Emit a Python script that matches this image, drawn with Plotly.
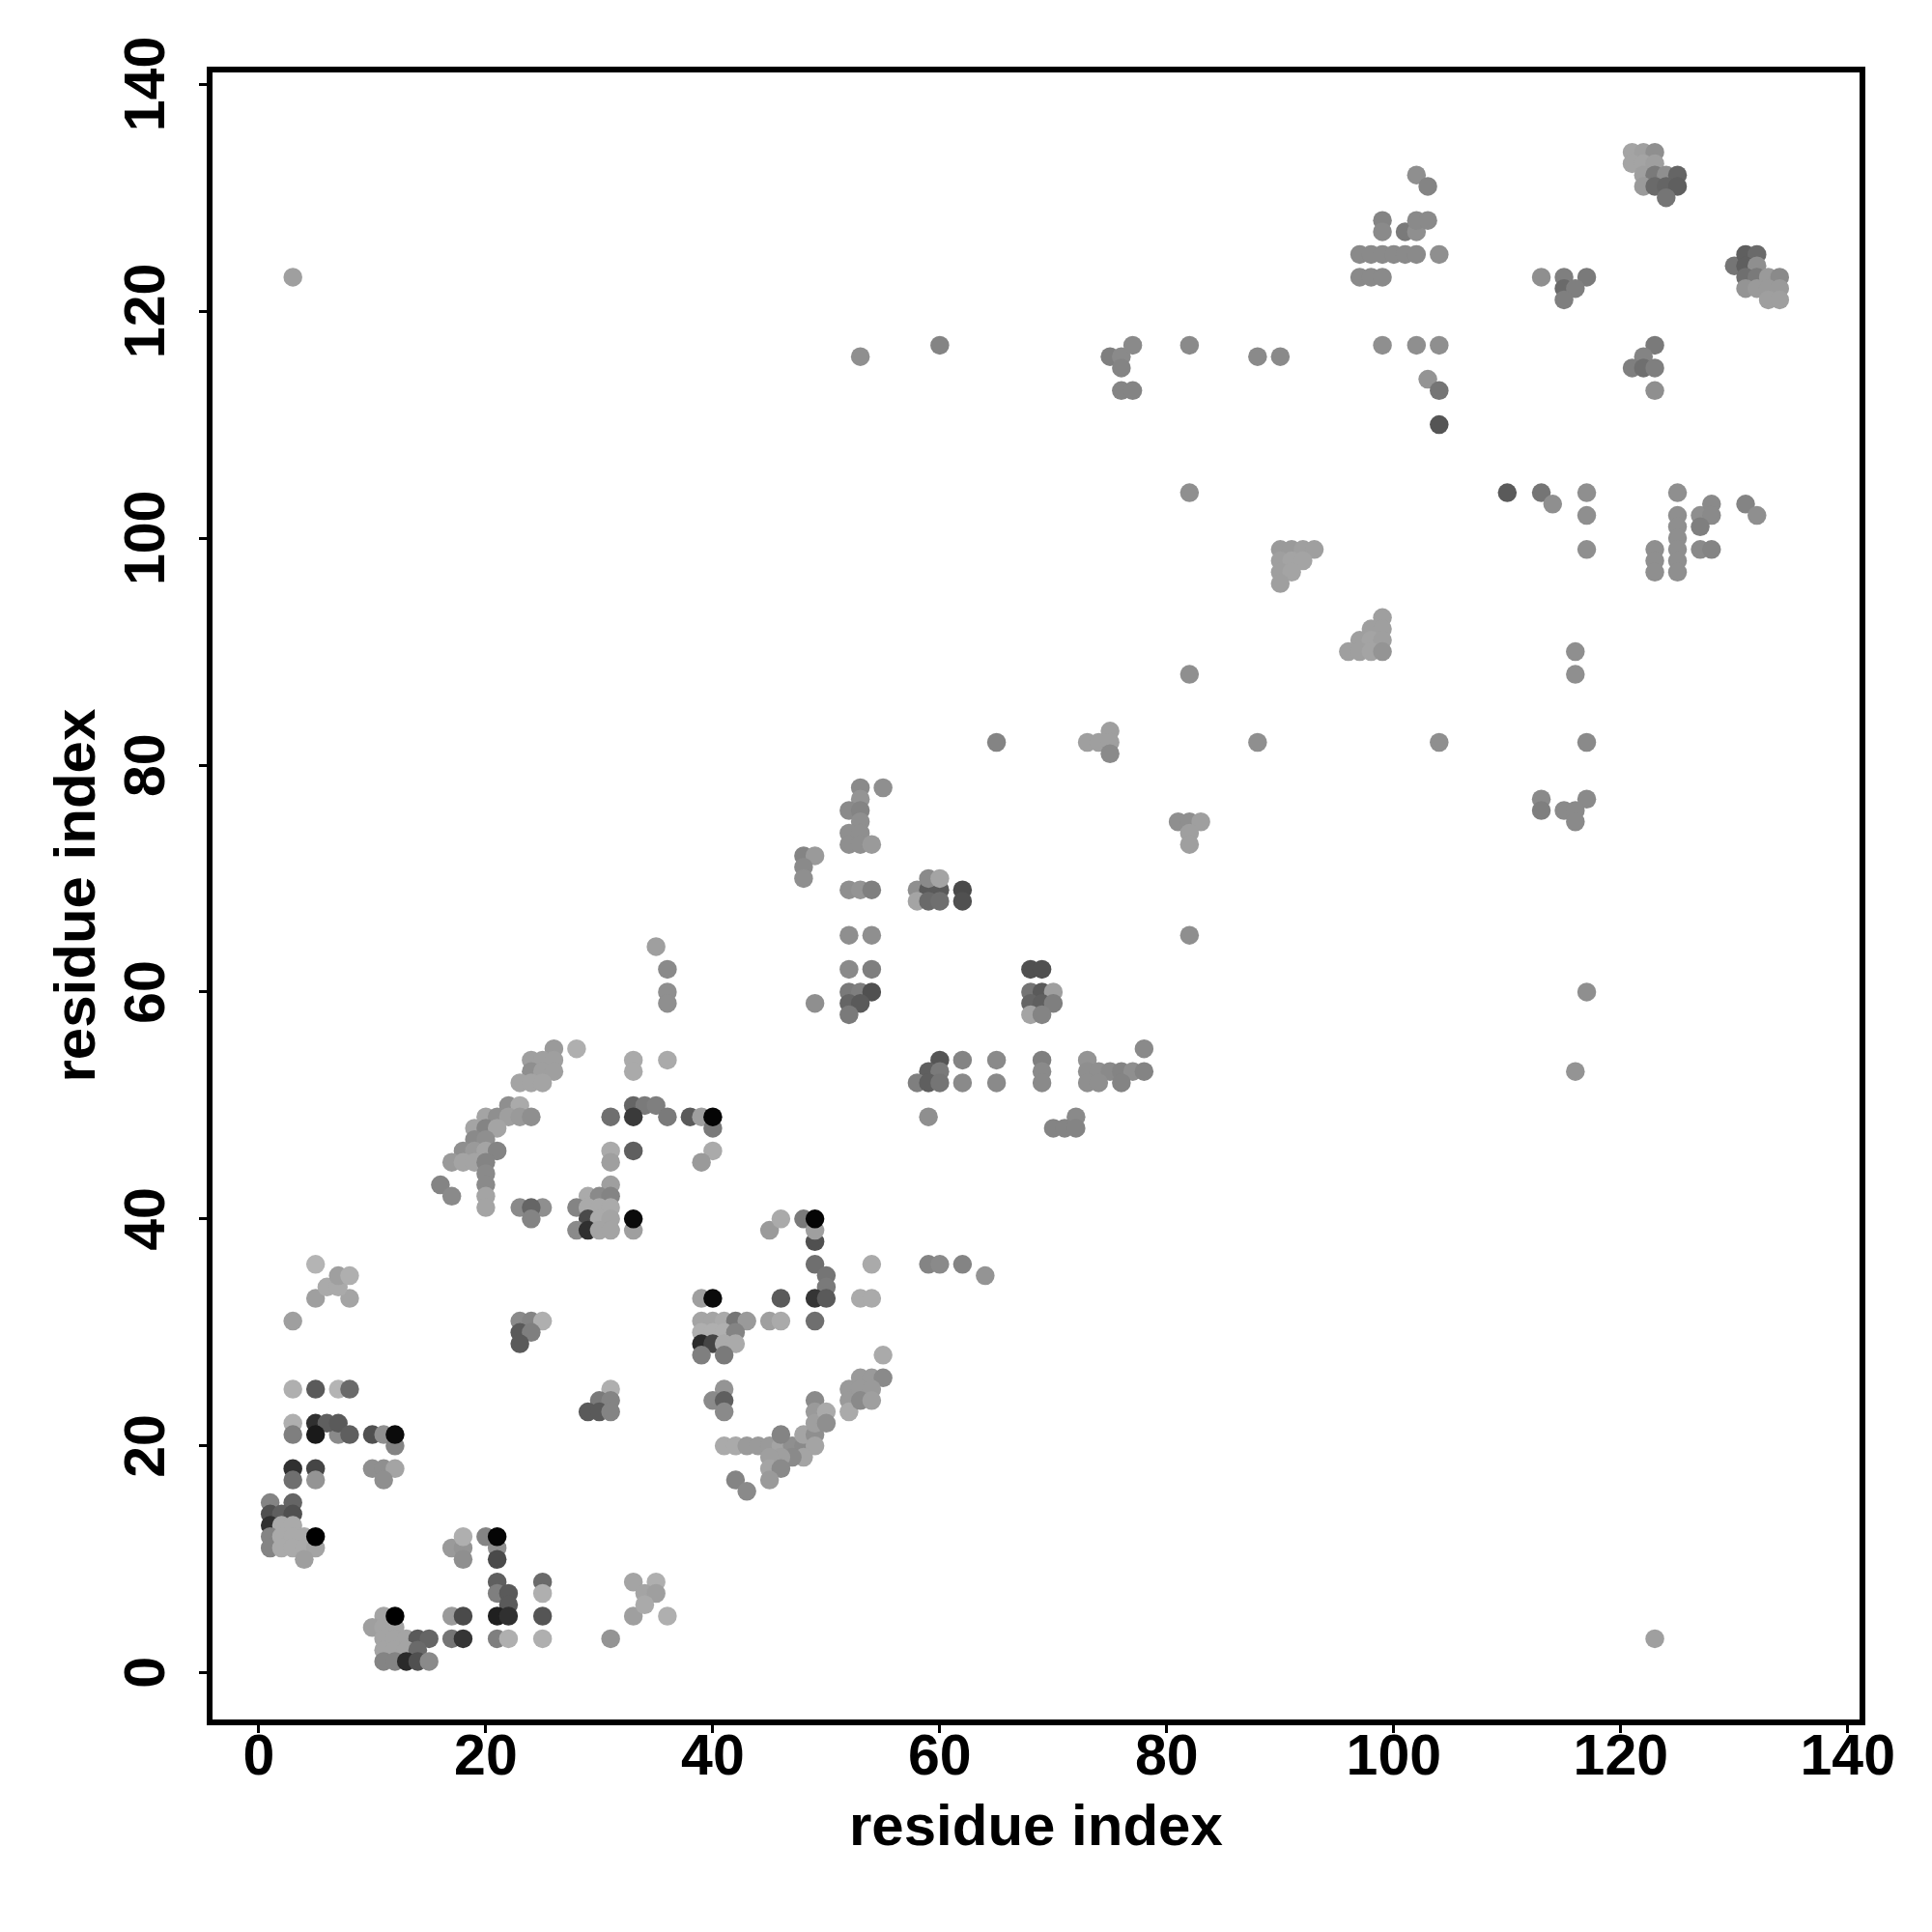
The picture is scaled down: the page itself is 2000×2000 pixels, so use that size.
import plotly.graph_objects as go

# contact map: residue pairs and the grey level of each dot, drawn in list order
residue_x = [
 3, 5, 8, 6, 7, 7, 8, 5,
 3, 5, 7, 8, 3, 7, 5, 6, 7, 8, 3, 5, 10, 11, 12, 12,
 3, 5, 10, 11, 12, 3, 5, 11,
 1, 3, 1, 2, 3, 1, 2, 3, 1, 1, 2, 3, 4, 2, 3, 4, 5, 5, 4,
 17, 18, 21, 18, 20, 21, 18, 21, 21, 25, 21, 22, 25, 22, 17, 18, 21, 22, 25,
 17, 18, 21, 22, 25, 31, 33, 36, 33, 35, 34, 35, 34,
 11, 10, 11, 12, 11, 12, 13, 14, 15, 11, 12, 13, 14, 11, 12, 13, 14, 15, 12,
 23, 24, 25, 23, 24, 23, 31, 30, 31, 29, 30, 31,
 26, 28, 24, 25, 26, 33, 36, 24, 25, 26, 33, 23, 24, 25,
 22, 23, 33, 34, 35, 20, 21, 22, 23, 24, 31, 33, 36, 38, 39, 40, 40,
 19, 20, 21, 19, 20, 18, 19, 20, 21, 31, 33, 40, 17, 18, 19, 20, 31, 39,
 20, 20, 16, 31, 17, 20, 29, 30, 31,
 20, 23, 25, 24, 28, 29, 30, 31, 24, 29, 30, 31, 33,
 28, 29, 30, 31, 33, 45, 46, 48, 49, 49, 49,
 49, 54, 50, 50, 39, 40, 46, 49, 50, 53, 54,
 39, 40, 41, 42, 43, 45, 46, 49, 39, 40, 41, 42, 39, 40, 41, 42, 39, 41,
 41, 40, 41, 41,
 41, 42, 43, 44, 45, 46, 47, 48, 46, 48, 49, 49, 48, 47, 46, 45, 45, 46, 45, 42, 43,
 49, 49, 49, 50, 50,
 52, 52, 52, 53, 54, 55, 53, 54, 53, 54, 55,
 53, 55, 53, 52, 53, 53, 52, 53, 52, 53, 54, 48, 49, 48, 48,
 52, 53, 54, 58, 59, 60, 62, 59, 60, 58, 59, 60, 62,
 52, 54, 52, 54, 52, 53, 54, 49, 52, 53, 52,
 68, 69, 68, 69, 70, 68, 69, 70, 68, 69,
 60, 62, 65, 69, 73, 59, 60, 69, 73, 74, 75, 76, 77, 78,
 58, 59, 60, 62, 65, 69, 73, 74, 76, 78, 59, 72, 70, 71, 72,
 81, 82, 83, 82, 82, 82, 65, 73, 74, 75, 75, 75,
 82, 88, 104, 116, 116, 117, 117, 113, 113, 115, 116, 116, 82, 117, 116,
 53, 60, 75, 76, 76, 77, 76, 77, 82, 88, 90, 3, 123, 35, 36, 36, 36,
 64, 59, 60, 62,
 90, 91, 92, 93, 90, 91, 92, 90, 91, 90, 99, 98, 99, 97, 98, 99, 96, 97, 98, 99,
 102, 103, 99, 99, 101, 102, 102, 103, 97, 98, 99, 100, 101, 102, 104, 97, 98, 99,
 113, 115, 117, 115, 116, 115,
 121, 122, 123, 121, 122, 123, 122, 123, 124, 125, 122, 123, 124, 125, 124,
 130, 131, 132, 131, 132, 131, 132, 131, 132, 133, 134, 133, 134, 133, 134,
 123, 122, 121, 122, 123, 123, 99, 102, 104, 103, 104, 104,
 110, 113, 114, 117, 117, 117, 125, 125, 125, 125, 125, 125, 125, 123, 123, 123,
 127, 128, 128, 127, 127, 128, 131, 132,
]
residue_y = [
 31, 33, 33, 34, 34, 35, 35, 36,
 25, 25, 25, 25, 22, 21, 22, 22, 22, 21, 21, 21, 21, 21, 20, 21,
 18, 18, 18, 18, 18, 17, 17, 17,
 15, 15, 14, 14, 14, 13, 13, 13, 12, 11, 12, 12, 12, 11, 11, 11, 11, 12, 10,
 11, 11, 11, 12, 12, 12, 10, 10, 8, 8, 7, 7, 7, 6, 5, 5, 5, 5, 5,
 3, 3, 3, 3, 3, 3, 5, 5, 8, 8, 7, 7, 6,
 5, 4, 4, 4, 3, 3, 3, 3, 3, 2, 2, 2, 2, 1, 1, 1, 1, 1, 5,
 31, 31, 31, 30, 30, 29, 25, 24, 24, 23, 23, 23,
 55, 55, 54, 54, 54, 54, 54, 53, 53, 53, 53, 52, 52, 52,
 50, 50, 50, 50, 50, 49, 49, 49, 49, 49, 49, 49, 49, 49, 49, 48, 49,
 48, 48, 48, 47, 47, 46, 46, 46, 46, 46, 46, 46, 45, 45, 45, 45, 45, 45,
 44, 43, 43, 43, 42, 42, 42, 42, 42,
 41, 41, 41, 41, 41, 41, 41, 41, 40, 40, 40, 40, 39,
 39, 39, 39, 39, 40, 39, 40, 40, 38, 39, 40,
 36, 36, 35, 34, 33, 33, 33, 33, 33, 33, 33,
 31, 31, 31, 31, 31, 31, 31, 31, 30, 30, 30, 30, 29, 29, 29, 29, 28, 28,
 25, 24, 24, 23,
 20, 20, 20, 20, 20, 20, 20, 20, 21, 21, 21, 20, 19, 19, 19, 19, 18, 18, 17, 17, 16,
 24, 23, 22, 23, 22,
 25, 24, 23, 26, 26, 26, 25, 25, 24, 24, 28,
 78, 78, 77, 76, 76, 75, 74, 74, 73, 73, 73, 72, 72, 71, 70,
 69, 69, 69, 69, 69, 69, 69, 70, 70, 68, 68, 68, 68,
 65, 65, 62, 62, 60, 60, 60, 59, 59, 59, 58,
 62, 62, 60, 60, 60, 59, 59, 59, 58, 58,
 54, 54, 54, 54, 54, 53, 53, 53, 53, 53, 53, 53, 53, 53,
 52, 52, 52, 52, 52, 52, 52, 52, 52, 55, 49, 49, 48, 48, 48,
 75, 75, 75, 74, 73, 65, 82, 82, 82, 83, 82, 81,
 88, 82, 82, 88, 90, 82, 77, 77, 76, 76, 76, 75, 104, 60, 53,
 116, 117, 116, 116, 115, 117, 113, 113, 117, 116, 116, 123, 3, 64, 62, 60, 59,
 35, 36, 36, 36,
 99, 99, 99, 99, 98, 98, 98, 97, 97, 96, 93, 92, 92, 91, 91, 91, 90, 90, 90, 90,
 132, 131, 128, 127, 127, 127, 128, 128, 125, 125, 125, 125, 125, 125, 125, 123, 123, 123,
 123, 123, 123, 122, 122, 121,
 134, 134, 134, 133, 133, 133, 132, 132, 132, 132, 131, 131, 131, 131, 130,
 124, 125, 125, 124, 124, 123, 123, 122, 122, 123, 123, 122, 122, 121, 121,
 117, 116, 115, 115, 115, 113, 117, 117, 117, 114, 113, 110,
 104, 104, 103, 104, 102, 99, 104, 102, 101, 100, 99, 98, 97, 99, 98, 97,
 102, 103, 102, 101, 99, 99, 103, 102,
]
shade = [
 150, 150, 155, 160, 160, 150, 165, 170,
 165, 85, 170, 100, 165, 130, 45, 90, 85, 90, 120, 25, 75, 135, 125, 10,
 45, 65, 135, 135, 155, 105, 140, 135,
 125, 95, 75, 90, 75, 45, 160, 160, 125, 125, 160, 160, 160, 160, 160, 160, 155, 0, 150,
 145, 140, 135, 165, 125, 5, 135, 70, 90, 100, 120, 85, 165, 85, 145, 70, 30, 45, 80,
 110, 50, 120, 165, 165, 140, 150, 165, 155, 165, 155, 150, 160,
 155, 150, 155, 155, 155, 155, 155, 85, 95, 155, 155, 155, 100, 125, 125, 40, 75, 130, 0,
 130, 125, 165, 85, 120, 85, 165, 115, 125, 85, 85, 125,
 145, 165, 150, 150, 150, 160, 160, 135, 150, 150, 160, 155, 155, 155,
 135, 160, 95, 115, 120, 155, 135, 150, 145, 135, 105, 55, 115, 85, 150, 115, 5,
 155, 125, 155, 130, 135, 135, 145, 155, 125, 160, 90, 160, 145, 155, 155, 125, 150, 145,
 130, 130, 125, 150, 130, 155, 160, 130, 125,
 155, 130, 135, 95, 125, 160, 160, 160, 125, 70, 160, 155, 150,
 130, 45, 155, 155, 10, 145, 160, 115, 75, 150, 5,
 105, 160, 110, 115, 150, 10, 85, 50, 85, 160, 160,
 155, 155, 160, 110, 145, 150, 160, 105, 165, 165, 165, 125, 40, 65, 160, 160, 120, 115,
 140, 130, 90, 130,
 160, 160, 145, 145, 145, 155, 135, 130, 125, 155, 135, 155, 155, 130, 150, 150, 155, 130, 145, 125, 130,
 130, 145, 150, 160, 135,
 145, 145, 160, 145, 145, 130, 145, 145, 130, 150, 160,
 130, 135, 140, 130, 125, 135, 135, 135, 135, 135, 145, 125, 145, 130, 135,
 135, 140, 120, 135, 85, 85, 70, 130, 155, 155, 100, 105, 75,
 135, 135, 130, 120, 115, 120, 75, 135, 95, 85, 115,
 75, 75, 110, 85, 150, 95, 90, 120, 155, 125,
 80, 125, 130, 120, 140, 90, 115, 130, 135, 135, 130, 125, 135, 125,
 120, 90, 110, 130, 130, 130, 135, 135, 125, 130, 135, 130, 125, 125, 125,
 135, 135, 150, 150, 150, 135, 125, 150, 150, 150, 150, 130,
 135, 135, 135, 135, 135, 130, 130, 130, 120, 130, 130, 130, 135, 135, 140,
 135, 125, 120, 130, 125, 130, 125, 125, 130, 130, 130, 150, 150, 150, 130, 135, 135,
 140, 125, 130, 125,
 145, 145, 150, 150, 150, 155, 155, 150, 155, 150, 150, 150, 150, 150, 155, 150, 150, 150, 155, 140,
 135, 125, 125, 130, 115, 135, 130, 130, 130, 130, 130, 130, 130, 130, 135, 130, 130, 130,
 135, 120, 115, 100, 120, 120,
 155, 150, 135, 155, 155, 150, 150, 115, 135, 95, 145, 100, 95, 90, 110,
 110, 90, 100, 90, 135, 105, 115, 140, 145, 145, 130, 145, 145, 150, 150,
 115, 125, 120, 105, 120, 135, 135, 135, 135, 140, 110, 80,
 85, 110, 135, 135, 135, 135, 135, 135, 135, 135, 135, 135, 135, 135, 135, 135,
 135, 130, 130, 120, 130, 125, 125, 135,
]
x_ticks = [0, 20, 40, 60, 80, 100, 120, 140]
y_ticks = [0, 20, 40, 60, 80, 100, 120, 140]
x_title = "residue index"
y_title = "residue index"

FONT = "Liberation Sans"
tick_font = dict(family=FONT, size=59, color="black", weight=700)
title_font = dict(family=FONT, size=60, color="black", weight=700)


def grey(level):
    v = min(255, round(level * 1.06))
    return f"rgb({v},{v},{v})"


fig = go.Figure(go.Scatter(
    x=residue_x, y=residue_y, mode="markers",
    marker=dict(size=19.5, color=[grey(g) for g in shade], line=dict(width=0)),
    hoverinfo="skip", cliponaxis=False,
))
axis_common = dict(
    showgrid=False, zeroline=False, showline=True, mirror=True,
    linecolor="black", linewidth=5.5,
    ticks="outside", ticklen=8, tickwidth=3, tickcolor="black",
    tickmode="array",
)
annotations = [
    dict(xref="paper", yref="paper", x=0.5, y=0, yshift=-109.5, text=x_title,
         showarrow=False, xanchor="center", yanchor="middle", font=title_font),
    dict(xref="paper", yref="paper", x=0, y=0.5, xshift=-143, text=y_title, textangle=-90,
         showarrow=False, xanchor="center", yanchor="middle", font=title_font),
]
for tick in y_ticks:
    annotations.append(dict(
        xref="paper", yref="y", x=0, y=tick, xshift=-70, yshift=0, text=str(tick), textangle=-90,
        showarrow=False, xanchor="center", yanchor="middle", font=tick_font,
    ))
fig.update_layout(
    width=2000, height=2000, autosize=False,
    paper_bgcolor="white", plot_bgcolor="white",
    margin=dict(l=212, r=83, t=67, b=228, pad=0),
    showlegend=False,
    annotations=annotations,
    xaxis=dict(range=[-4.08, 141.04], tickvals=x_ticks, tickangle=0, tickfont=tick_font,
               ticklabelstandoff=-28, **axis_common),
    yaxis=dict(range=[-4.11, 141.04], tickvals=y_ticks, showticklabels=False, **axis_common),
)
assert len(residue_x) == len(residue_y) == len(shade), (len(residue_x), len(residue_y), len(shade))
fig.write_html("out.html")
